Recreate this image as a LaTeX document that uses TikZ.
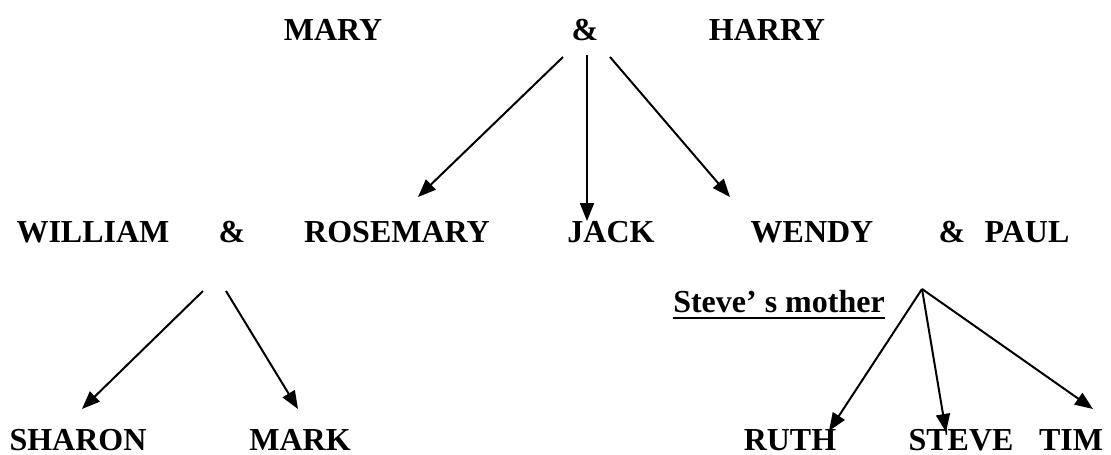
\documentclass[tikz,border=0pt]{standalone}
\usepackage{fontspec}
\setmainfont{Liberation Serif}
\usetikzlibrary{arrows.meta}
\tikzset{nm/.style={inner sep=0pt,anchor=base,font=\fontsize{32}{38}\selectfont\bfseries},arr/.style={draw,line width=2pt,-{Triangle[length=18pt,width=14pt]}}}
\tikzset{every picture/.style={x=1pt,y=-1pt}}

\begin{document}
\begin{tikzpicture}
\useasboundingbox (0,0) rectangle (1111,455);
\node[nm] (mary) at (333,40) {MARY};
\node[nm] (amp1) at (585,40) {\&};
\node[nm] (harry) at (767,40) {HARRY};
\node[nm] (william) at (93,242) {WILLIAM};
\node[nm] (amp2) at (232,242) {\&};
\node[nm] (rosemary) at (397,242) {ROSEMARY};
\node[nm] (jack) at (611,242) {JACK};
\node[nm] (wendy) at (812,242) {WENDY};
\node[nm] (amp3) at (952,242) {\&};
\node[nm] (paul) at (1027,242) {PAUL};
\node[nm] (mother) at (779,312) {Steve’ s mother};
\node[nm] (sharon) at (78,450) {SHARON};
\node[nm] (mark) at (300,450) {MARK};
\node[nm] (ruth) at (790,450) {RUTH};
\node[nm] (steve) at (961,450) {STEVE};
\node[nm] (tim) at (1071,450) {TIM};
\draw[line width=2.6pt] ([yshift=-6pt]mother.base west) -- ([yshift=-6pt]mother.base east);
% arrow ends
\coordinate (s1) at (563,57);
\coordinate (s2) at (587,55);
\coordinate (s3) at (610,57);
\coordinate (t1) at (418,197);
\coordinate (t2) at (587,221);
\coordinate (t3) at (730,197);
\coordinate (s4) at (203,291);
\coordinate (s5) at (226,291);
\coordinate (t4) at (82,409);
\coordinate (t5) at (298,409);
\coordinate (s6) at (922,289);
\coordinate (t6) at (829,431);
\coordinate (t7) at (946,432);
\coordinate (t8) at (1093,409);
\path (s1) edge[arr] (t1) (s2) edge[arr] (t2) (s3) edge[arr] (t3) (s4) edge[arr] (t4) (s5) edge[arr] (t5) (s6) edge[arr] (t6) edge[arr] (t7) edge[arr] (t8);
\end{tikzpicture}
\end{document}
